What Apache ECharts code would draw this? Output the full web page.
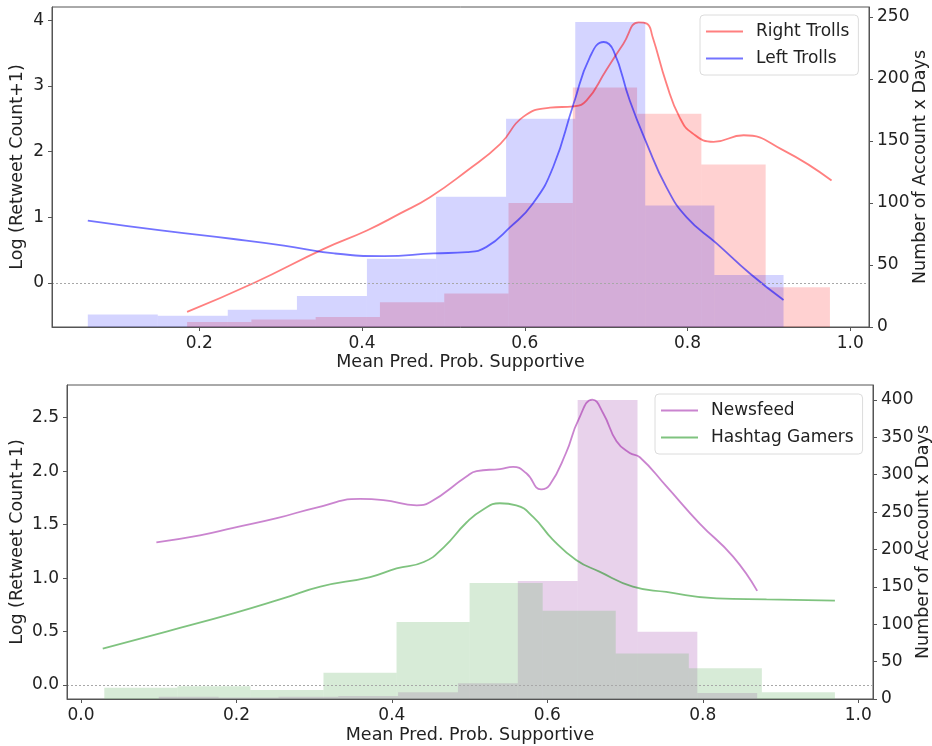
<!DOCTYPE html>
<html>
<head>
<meta charset="utf-8">
<script src="https://cdn.jsdelivr.net/npm/echarts@6/dist/echarts.min.js"></script>
<style>
  html, body { margin: 0; padding: 0; background: #fff; }
  #chart { width: 932px; height: 746px; }
</style>
</head>
<body>
<div id="chart"></div>
<script>
// ---- top panel: trolls ----
const redEdges = [0.185, 0.264, 0.343, 0.422, 0.501, 0.580, 0.659, 0.738, 0.817, 0.896, 0.975];
const redCounts = [4, 6, 8, 20, 27, 100, 193, 172, 131, 32];
const blueEdges = [0.063, 0.149, 0.235, 0.320, 0.406, 0.491, 0.577, 0.662, 0.748, 0.833, 0.918];
const blueCounts = [10, 9, 14, 25, 55, 105, 168, 246, 98, 42];

const rightX = [0.185, 0.267, 0.353, 0.406, 0.447, 0.484, 0.529, 0.570, 0.598, 0.631, 0.660, 0.676, 0.700, 0.721, 0.740, 0.750, 0.757, 0.774, 0.790, 0.806, 0.832, 0.869, 0.918, 0.977];
const rightY = [-0.44, 0.0, 0.52, 0.80, 1.06, 1.31, 1.71, 2.12, 2.53, 2.67, 2.69, 2.78, 3.24, 3.64, 3.97, 3.95, 3.75, 3.04, 2.53, 2.28, 2.15, 2.25, 2.02, 1.56];
const leftX = [0.063, 0.153, 0.242, 0.304, 0.366, 0.427, 0.488, 0.529, 0.553, 0.582, 0.610, 0.635, 0.660, 0.680, 0.697, 0.709, 0.729, 0.750, 0.774, 0.799, 0.836, 0.877, 0.918];
const leftY = [0.95, 0.80, 0.67, 0.57, 0.45, 0.41, 0.45, 0.47, 0.55, 0.85, 1.21, 1.77, 2.73, 3.44, 3.67, 3.54, 2.78, 2.12, 1.46, 1.00, 0.60, 0.14, -0.26];

// ---- bottom panel: newsfeed / hashtag gamers ----
const purpleEdges = [0.100, 0.177, 0.254, 0.331, 0.408, 0.485, 0.562, 0.639, 0.716, 0.793, 0.870];
const purpleCounts = [3, 2, 3, 4, 9, 21, 158, 400, 90, 8];
const greenEdges = [0.030, 0.124, 0.218, 0.312, 0.406, 0.500, 0.594, 0.688, 0.782, 0.876, 0.970];
const greenCounts = [15, 17, 12, 35, 103, 155, 118, 61, 41, 9];

const newsX = [0.097, 0.153, 0.196, 0.252, 0.303, 0.359, 0.389, 0.432, 0.449, 0.496, 0.509, 0.539, 0.556, 0.573, 0.592, 0.603, 0.624, 0.640, 0.658, 0.672, 0.689, 0.706, 0.719, 0.753, 0.796, 0.839, 0.870];
const newsY = [1.335, 1.40, 1.47, 1.56, 1.66, 1.74, 1.73, 1.68, 1.71, 1.95, 2.00, 2.02, 2.04, 1.98, 1.83, 1.87, 2.17, 2.48, 2.67, 2.54, 2.28, 2.17, 2.13, 1.86, 1.51, 1.20, 0.88];
const gameX = [0.028, 0.110, 0.196, 0.260, 0.308, 0.372, 0.406, 0.441, 0.467, 0.496, 0.517, 0.539, 0.560, 0.582, 0.607, 0.637, 0.667, 0.710, 0.753, 0.818, 0.882, 0.970];
const gameY = [0.34, 0.50, 0.67, 0.81, 0.92, 1.01, 1.09, 1.15, 1.29, 1.52, 1.64, 1.70, 1.68, 1.57, 1.36, 1.17, 1.06, 0.92, 0.87, 0.81, 0.80, 0.79];

// tick labels
const xTicksTop = [0.2, 0.4, 0.6, 0.8, 1.0];
const xTicksBottom = [0.0, 0.2, 0.4, 0.6, 0.8, 1.0];
const logTicksTop = [0, 1, 2, 3, 4];
const countTicksTop = [0, 50, 100, 150, 200, 250];
const logTicksBottom = [0.0, 0.5, 1.0, 1.5, 2.0, 2.5];
const countTicksBottom = [0, 50, 100, 150, 200, 250, 300, 350, 400];

const FONT = 'DejaVu Sans';
const TXT = '#222';
const AXC = '#555';

const chart = echarts.init(document.getElementById('chart'), null, { renderer: 'canvas' });

const zip = (xs, ys) => xs.map((x, i) => [x, ys[i]]);

function histSeries(edges, counts, color, idx) {
  return {
    type: 'custom',
    xAxisIndex: idx,
    yAxisIndex: idx * 2 + 1,
    silent: true,
    z: 1,
    encode: { x: [0, 1], y: 2 },
    data: counts.map((c, i) => [edges[i], edges[i + 1], c]),
    renderItem: (params, api) => {
      const p0 = api.coord([api.value(0), api.value(2)]);
      const p1 = api.coord([api.value(1), 0]);
      return {
        type: 'rect',
        shape: { x: p0[0], y: p0[1], width: p1[0] - p0[0], height: p1[1] - p0[1] },
        style: { fill: color }
      };
    }
  };
}

function lineSeries(name, xs, ys, color, idx, zeroLine) {
  const s = {
    name,
    type: 'line',
    xAxisIndex: idx,
    yAxisIndex: idx * 2,
    data: zip(xs, ys),
    smooth: 0.5,
    symbol: 'none',
    z: 3,
    lineStyle: { color, width: 1.8 },
    itemStyle: { color }
  };
  if (zeroLine) {
    s.markLine = {
      silent: true,
      symbol: 'none',
      label: { show: false },
      lineStyle: { type: [2, 2], color: '#a8a8a8', width: 1 },
      data: [{ yAxis: 0 }]
    };
  }
  return s;
}

function xAxis(idx, min, max, ticks, gap) {
  return {
    type: 'value', gridIndex: idx, min, max, z: 10,
    name: 'Mean Pred. Prob. Supportive', nameLocation: 'middle', nameGap: gap,
    nameMoveOverlap: false,
    nameTextStyle: { fontFamily: FONT, fontSize: 17.5, color: TXT },
    axisLine: { show: true, onZero: false, lineStyle: { color: AXC, width: 1 } },
    axisTick: { show: true, length: 4, lineStyle: { color: AXC }, customValues: ticks },
    axisLabel: { fontFamily: FONT, fontSize: 17, color: TXT, margin: 8, customValues: ticks,
      formatter: v => v.toFixed(1) },
    splitLine: { show: false }
  };
}

function yAxis(idx, pos, min, max, ticks, name, gap, digits) {
  return {
    type: 'value', gridIndex: idx, position: pos, min, max, z: 10,
    name, nameLocation: 'middle', nameGap: gap,
    nameMoveOverlap: false,
    nameTextStyle: { fontFamily: FONT, fontSize: 17.5, color: TXT },
    axisLine: { show: true, onZero: false, lineStyle: { color: AXC, width: 1 } },
    axisTick: { show: true, length: 4, lineStyle: { color: AXC }, customValues: ticks },
    axisLabel: { fontFamily: FONT, fontSize: 17, color: TXT, margin: 8, customValues: ticks,
      formatter: v => v.toFixed(digits) },
    splitLine: { show: false }
  };
}

function legend(names, left, top) {
  return {
    data: names, left, top, orient: 'vertical',
    itemWidth: 37, itemHeight: 10, itemGap: 10,
    padding: [8, 9, 8, 5],
    borderColor: '#dcdcdc', borderWidth: 1, borderRadius: 4,
    backgroundColor: 'rgba(255,255,255,0.8)',
    itemStyle: { opacity: 0 },
    textStyle: { fontFamily: FONT, fontSize: 17, color: TXT, padding: [0, 0, 0, 8] },
    selectedMode: false
  };
}

const gridBase = { show: true, borderColor: AXC, borderWidth: 1, backgroundColor: 'transparent', containLabel: false, outerBoundsMode: 'none' };

const option = {
  animation: false,
  backgroundColor: '#fff',
  grid: [
    Object.assign({ left: 52, top: 7, right: 63, height: 320 }, gridBase),
    Object.assign({ left: 67, top: 385, right: 59, height: 314 }, gridBase)
  ],
  xAxis: [
    xAxis(0, 0.019, 1.023, xTicksTop, 26),
    xAxis(1, -0.018, 1.019, xTicksBottom, 27)
  ],
  yAxis: [
    yAxis(0, 'left', -0.67, 4.203, logTicksTop, 'Log (Retweet Count+1)', 26, 0),
    yAxis(0, 'right', 0, 258, countTicksTop, 'Number of Account x Days', 42, 0),
    yAxis(1, 'left', -0.131, 2.806, logTicksBottom, 'Log (Retweet Count+1)', 41, 1),
    yAxis(1, 'right', 0, 420, countTicksBottom, 'Number of Account x Days', 41, 0)
  ],
  legend: [
    legend(['Right Trolls', 'Left Trolls'], 700, 15),
    legend(['Newsfeed', 'Hashtag Gamers'], 655, 394)
  ],
  series: [
    histSeries(redEdges, redCounts, 'rgba(255,0,0,0.18)', 0),
    histSeries(blueEdges, blueCounts, 'rgba(0,0,255,0.17)', 0),
    lineSeries('Right Trolls', rightX, rightY, 'rgba(255,0,0,0.5)', 0, true),
    lineSeries('Left Trolls', leftX, leftY, 'rgba(0,0,255,0.55)', 0, false),
    histSeries(purpleEdges, purpleCounts, 'rgba(178,105,188,0.3)', 1),
    histSeries(greenEdges, greenCounts, 'rgba(122,188,122,0.3)', 1),
    lineSeries('Newsfeed', newsX, newsY, 'rgba(150,10,160,0.5)', 1, true),
    lineSeries('Hashtag Gamers', gameX, gameY, 'rgba(0,135,0,0.5)', 1, false)
  ]
};

chart.setOption(option);
</script>
</body>
</html>
